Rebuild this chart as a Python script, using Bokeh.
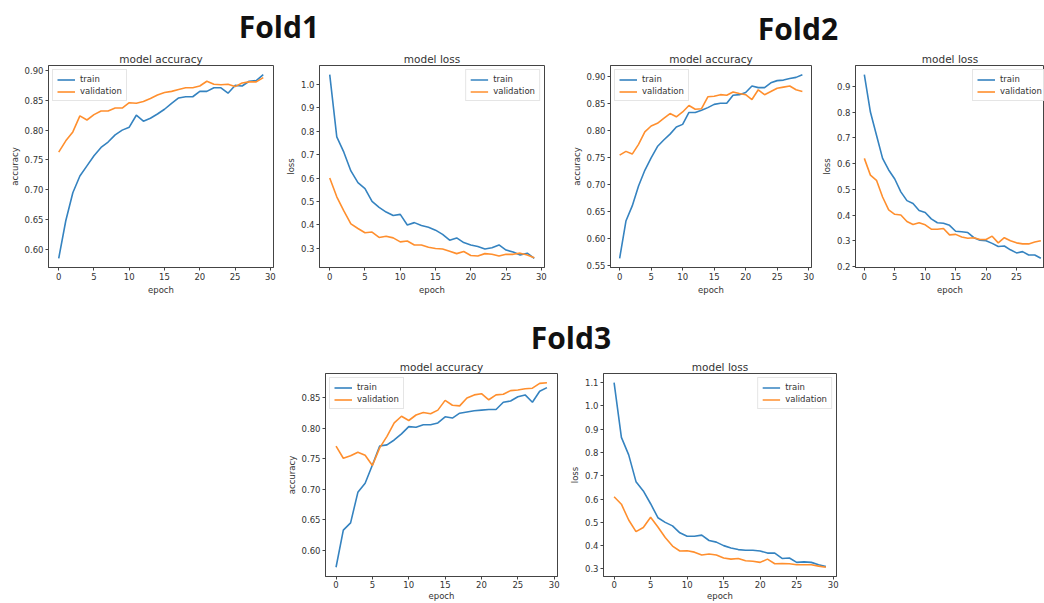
from bokeh.plotting import figure
from bokeh.layouts import column, row
from bokeh.models import Div, Spacer, SingleIntervalTicker, NumeralTickFormatter, Range1d
from bokeh.embed import file_html
from bokeh.resources import INLINE

epochs = list(range(30))

fold_titles = ["Fold1", "Fold2", "Fold3"]
series_labels = ["train", "validation"]

f1_acc_train = [0.585, 0.648, 0.695, 0.723, 0.740, 0.757, 0.771, 0.780, 0.792, 0.800,
                0.805, 0.825, 0.815, 0.820, 0.827, 0.835, 0.845, 0.854, 0.856, 0.856,
                0.865, 0.865, 0.871, 0.871, 0.862, 0.875, 0.874, 0.882, 0.883, 0.893]
f1_acc_val = [0.763, 0.782, 0.797, 0.824, 0.817, 0.826, 0.832, 0.832, 0.837, 0.837,
              0.846, 0.845, 0.848, 0.853, 0.859, 0.863, 0.865, 0.868, 0.871, 0.871,
              0.874, 0.882, 0.877, 0.876, 0.877, 0.873, 0.879, 0.881, 0.881, 0.888]
f1_loss_train = [1.04, 0.775, 0.71, 0.63, 0.58, 0.555, 0.50, 0.475, 0.455, 0.44,
                 0.445, 0.40, 0.41, 0.398, 0.39, 0.378, 0.36, 0.335, 0.345, 0.325,
                 0.315, 0.308, 0.298, 0.303, 0.315, 0.293, 0.285, 0.272, 0.28, 0.258]
f1_loss_val = [0.60, 0.52, 0.46, 0.405, 0.385, 0.367, 0.37, 0.347, 0.352, 0.345,
               0.328, 0.332, 0.315, 0.315, 0.305, 0.30, 0.298, 0.288, 0.278, 0.287,
               0.27, 0.268, 0.278, 0.275, 0.268, 0.275, 0.275, 0.28, 0.272, 0.26]

f2_acc_train = [0.563, 0.632, 0.66, 0.697, 0.726, 0.749, 0.77, 0.782, 0.793, 0.806,
                0.811, 0.833, 0.833, 0.837, 0.842, 0.848, 0.85, 0.85, 0.865, 0.866,
                0.87, 0.882, 0.879, 0.879, 0.888, 0.892, 0.893, 0.896, 0.898, 0.903]
f2_acc_val = [0.754, 0.761, 0.756, 0.774, 0.797, 0.808, 0.813, 0.822, 0.831, 0.825,
              0.834, 0.846, 0.839, 0.84, 0.862, 0.863, 0.866, 0.865, 0.871, 0.868,
              0.866, 0.857, 0.875, 0.866, 0.872, 0.878, 0.88, 0.882, 0.875, 0.872]
f2_loss_train = [0.945, 0.80, 0.71, 0.62, 0.575, 0.54, 0.49, 0.456, 0.445, 0.418,
                 0.41, 0.385, 0.37, 0.368, 0.36, 0.337, 0.335, 0.332, 0.312, 0.302,
                 0.3, 0.29, 0.278, 0.28, 0.265, 0.253, 0.258, 0.245, 0.245, 0.232]
f2_loss_val = [0.62, 0.555, 0.535, 0.47, 0.42, 0.403, 0.4, 0.375, 0.363, 0.37,
               0.362, 0.345, 0.345, 0.348, 0.323, 0.325, 0.315, 0.31, 0.312, 0.305,
               0.305, 0.318, 0.292, 0.312, 0.3, 0.292, 0.288, 0.288, 0.295, 0.3]

f3_acc_train = [0.572, 0.633, 0.645, 0.695, 0.71, 0.74, 0.771, 0.773, 0.781, 0.791,
                0.803, 0.802, 0.806, 0.806, 0.809, 0.819, 0.817, 0.825, 0.827, 0.829,
                0.83, 0.831, 0.831, 0.843, 0.845, 0.852, 0.855, 0.843, 0.861, 0.867]
f3_acc_val = [0.771, 0.751, 0.755, 0.761, 0.756, 0.739, 0.768, 0.787, 0.809, 0.82,
              0.813, 0.822, 0.826, 0.824, 0.83, 0.846, 0.838, 0.837, 0.85, 0.855,
              0.857, 0.847, 0.855, 0.856, 0.862, 0.863, 0.865, 0.866, 0.874, 0.875]
f3_loss_train = [1.10, 0.865, 0.79, 0.675, 0.635, 0.58, 0.52, 0.50, 0.485, 0.455,
                 0.44, 0.44, 0.445, 0.422, 0.415, 0.40, 0.39, 0.383, 0.38, 0.38,
                 0.377, 0.368, 0.368, 0.345, 0.347, 0.328, 0.33, 0.328, 0.318, 0.31]
f3_loss_val = [0.61, 0.578, 0.51, 0.46, 0.478, 0.522, 0.48, 0.435, 0.398, 0.377,
               0.378, 0.372, 0.36, 0.364, 0.36, 0.347, 0.342, 0.345, 0.335, 0.333,
               0.328, 0.342, 0.322, 0.323, 0.322, 0.318, 0.318, 0.318, 0.312, 0.307]

BLUE = "#3583c0"
ORANGE = "#ff8f2e"
FRAME = "#444444"
TXT = "#333333"
FONT = "DejaVu Sans"


def make(title, ylab, train, val, ytick, yfmt, width, height, mbl, mbr, mbt, mbb,
         leg_loc, x_end=30.45, xlab_standoff=2, xtick_standoff=2):
    lo = min(train + val)
    hi = max(train + val)
    span = hi - lo
    p = figure(width=width, height=height, output_backend="svg", toolbar_location=None,
               x_range=Range1d(-1.45, x_end),
               y_range=Range1d(lo - 0.05 * span, hi + 0.05 * span),
               min_border_left=mbl, min_border_right=mbr,
               min_border_top=mbt, min_border_bottom=mbb)
    p.title.text = title
    p.title.align = "center"
    p.title.text_font = FONT
    p.title.text_font_size = "10.5px"
    p.title.text_font_style = "normal"
    p.title.text_color = TXT
    p.title.standoff = 2
    p.title.offset = 0

    p.line(epochs, train, color=BLUE, line_width=1.6, legend_label=series_labels[0])
    p.line(epochs, val, color=ORANGE, line_width=1.6, legend_label=series_labels[1])

    p.xaxis.ticker = SingleIntervalTicker(interval=5, num_minor_ticks=0)
    p.yaxis.ticker = SingleIntervalTicker(interval=ytick, num_minor_ticks=0)
    p.yaxis.formatter = NumeralTickFormatter(format=yfmt)
    p.xaxis.axis_label = "epoch"
    p.yaxis.axis_label = ylab
    for ax in (p.xaxis, p.yaxis):
        ax.axis_label_text_font = FONT
        ax.axis_label_text_font_size = "8.5px"
        ax.axis_label_text_font_style = "normal"
        ax.axis_label_text_color = TXT
        ax.axis_label_standoff = 2
        ax.major_label_text_font = FONT
        ax.major_label_text_font_size = "8.5px"
        ax.major_label_text_color = TXT
        ax.major_label_standoff = 2
        ax.major_tick_in = 0
        ax.major_tick_out = 3
        ax.minor_tick_line_color = None
        ax.major_tick_line_color = FRAME
        ax.axis_line_color = FRAME
    p.xaxis.axis_label_standoff = xlab_standoff
    p.xaxis.major_label_standoff = xtick_standoff
    p.grid.visible = False
    p.outline_line_color = FRAME
    p.outline_line_width = 1
    p.background_fill_color = "white"
    p.border_fill_color = "white"

    lg = p.legend[0]
    lg.location = leg_loc
    lg.label_text_font = FONT
    lg.label_text_font_size = "8.5px"
    lg.label_text_color = TXT
    lg.glyph_width = 18
    lg.glyph_height = 9
    lg.label_height = 9
    lg.label_standoff = 5
    lg.spacing = 2
    lg.padding = 4
    lg.margin = 4
    lg.border_line_color = "#cccccc"
    lg.background_fill_alpha = 0.85
    return p


TOP_H = 250
p1 = make("model accuracy", "accuracy", f1_acc_train, f1_acc_val, 0.05, "0.00",
          278, TOP_H, 48, 5, 17, 31, "top_left")
p2 = make("model loss", "loss", f1_loss_train, f1_loss_val, 0.1, "0.0",
          290, TOP_H, 41, 24, 17, 31, "top_right")
p3 = make("model accuracy", "accuracy", f2_acc_train, f2_acc_val, 0.05, "0.00",
          250, TOP_H, 41, 7, 17, 31, "top_left")
p4 = make("model loss", "loss", f2_loss_train, f2_loss_val, 0.1, "0.0",
          226, TOP_H, 32, 0, 17, 31, (117, 166), x_end=29.6)

BOT_H = 247
p5 = make("model accuracy", "accuracy", f3_acc_train, f3_acc_val, 0.05, "0.00",
          282, BOT_H, 41, 8, 17, 24, "top_left", xlab_standoff=0, xtick_standoff=1)
p6 = make("model loss", "loss", f3_loss_train, f3_loss_val, 0.1, "0.0",
          276, BOT_H, 38, 5, 17, 24, "top_right", xlab_standoff=0, xtick_standoff=1)


def fold_div(txt, w, h, mt):
    html = ('<div style="font-family:\'Open Sans\';font-weight:700;font-size:30px;'
            'line-height:30px;margin:0;padding-top:%dpx;text-align:center;width:%dpx;'
            'color:#111111">%s</div>' % (mt, w, txt))
    return Div(text=html, width=w, height=h, margin=0)


top_titles = row(fold_div(fold_titles[0], 558, 48, 12), Spacer(width=10, height=48, margin=0),
                 fold_div(fold_titles[1], 460, 48, 14))
top_plots = row(p1, p2, p3, p4)
mid_title = row(Spacer(width=471, height=58, margin=0), fold_div(fold_titles[2], 200, 58, 25))
bot_plots = row(Spacer(width=283, height=BOT_H, margin=0), p5, p6)

layout = column(top_titles, top_plots, mid_title, bot_plots)

open("out.html", "w").write(file_html(layout, INLINE))
